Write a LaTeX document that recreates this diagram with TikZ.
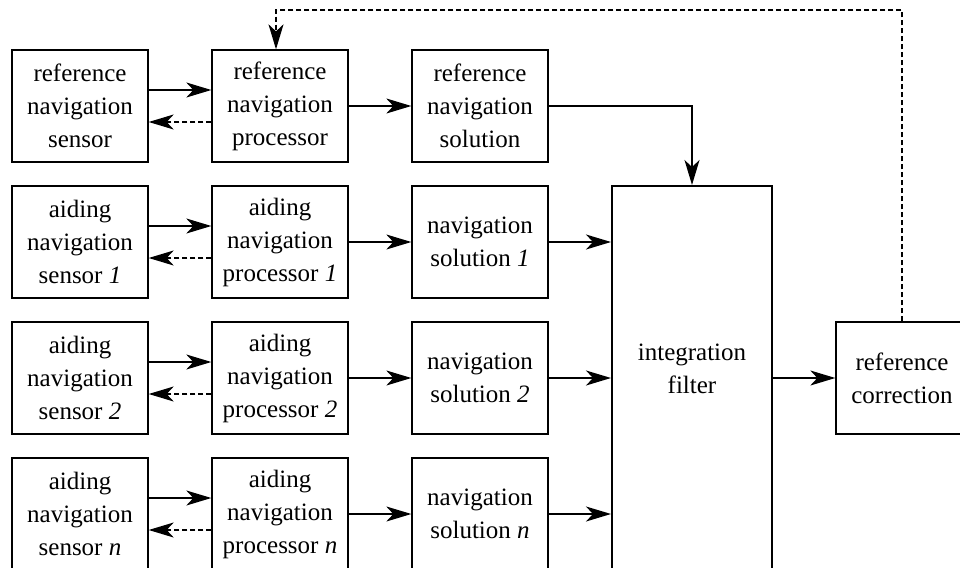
\documentclass[tikz,border=0pt]{standalone}
\usepackage{fontspec}
\setmainfont{Liberation Serif}
\newfontfamily\blockfont{Liberation Serif}
\usetikzlibrary{arrows.meta}

\tikzset{
  block/.style={draw, line width=1.3pt, minimum width=136pt, minimum height=112pt,
    align=center, inner sep=0pt, font=\blockfont\fontsize{25}{33}\selectfont},
  filterbox/.style={block, line width=2pt, minimum width=160pt, minimum height=384pt},
  fwd/.style={-{Stealth[length=25pt,width=15pt,inset=7pt]}, line width=1.5pt},
  back/.style={fwd, dash pattern=on 5pt off 3pt},
}

\begin{document}
\begin{tikzpicture}[x=1pt,y=-1pt]
        \clip (0,0) rectangle (960,567);
        % Draw the reference row
        \node[block] (rsens) at (80,106) {reference\\navigation\\sensor};
        \node[block] (rproc) at (280,106) {reference\\navigation\\processor};
        \node[block] (rsol) at (480,106) {reference\\navigation\\solution};
        % Draw the aiding rows
        \node[block] (sens1) at (80,242) {aiding\\navigation\\sensor \textit{1}};
        \node[block] (proc1) at (280,242) {aiding\\navigation\\processor \textit{1}};
        \node[block] (sol1) at (480,242) {navigation\\solution \textit{1}};
        \node[block] (sens2) at (80,378) {aiding\\navigation\\sensor \textit{2}};
        \node[block] (proc2) at (280,378) {aiding\\navigation\\processor \textit{2}};
        \node[block] (sol2) at (480,378) {navigation\\solution \textit{2}};
        \node[block] (sensn) at (80,514) {aiding\\navigation\\sensor \textit{n}};
        \node[block] (procn) at (280,514) {aiding\\navigation\\processor \textit{n}};
        \node[block] (soln) at (480,514) {navigation\\solution \textit{n}};
        % Draw the filter and the correction
        \node[filterbox] (filt) at (692,378) {integration\\filter\\[-14pt]\mbox{}};
        \node[block, minimum width=132pt] (corr) at (902,378) {reference\\correction};
        \coordinate (fb) at (0,10);
        % Sensor and processor links
        \draw[fwd] ([yshift=16pt]rsens.east) -- ([yshift=16pt]rproc.west);
        \draw[back] ([yshift=-16pt]rproc.west) -- ([yshift=-16pt]rsens.east);
        \draw[fwd] ([yshift=16pt]sens1.east) -- ([yshift=16pt]proc1.west);
        \draw[back] ([yshift=-16pt]proc1.west) -- ([yshift=-16pt]sens1.east);
        \draw[fwd] ([yshift=16pt]sens2.east) -- ([yshift=16pt]proc2.west);
        \draw[back] ([yshift=-16pt]proc2.west) -- ([yshift=-16pt]sens2.east);
        \draw[fwd] ([yshift=16pt]sensn.east) -- ([yshift=16pt]procn.west);
        \draw[back] ([yshift=-16pt]procn.west) -- ([yshift=-16pt]sensn.east);
        % Processor to solution
        \draw[fwd] (rproc) -- (rsol);
        \draw[fwd] (proc1) -- (sol1);
        \draw[fwd] (proc2) -- (sol2);
        \draw[fwd] (procn) -- (soln);
        % Solutions into the filter
        \draw[fwd] (rsol.east) -| (filt.north);
        \draw[fwd] (sol1.east) -- (sol1.east -| filt.west);
        \draw[fwd] (sol2.east) -- (sol2.east -| filt.west);
        \draw[fwd] (soln.east) -- (soln.east -| filt.west);
        \draw[fwd] (filt.east |- corr.west) -- (corr.west);
        % Feedback to the reference processor
        \draw[back] (corr.north) -- (corr.north |- fb) -| ([xshift=-4pt]rproc.north);
    \end{tikzpicture}
\end{document}
